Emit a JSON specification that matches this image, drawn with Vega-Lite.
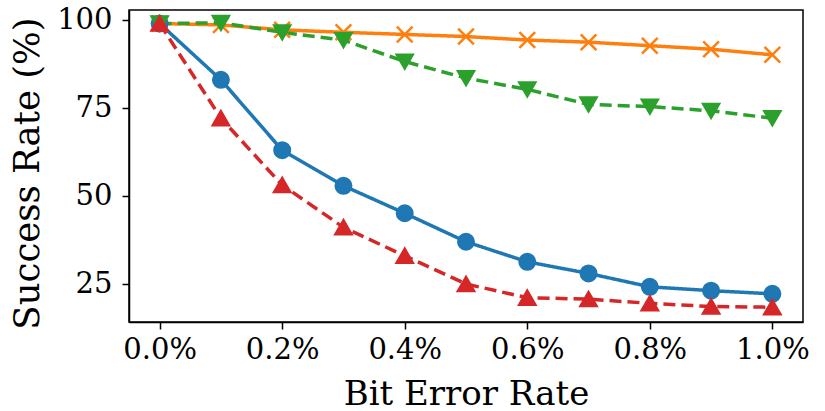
{
  "$schema": "https://vega.github.io/schema/vega-lite/v6.json",
  "width": 674,
  "height": 312,
  "autosize": {"type": "none"},
  "padding": {"left": 129, "top": 10, "right": 22, "bottom": 89},
  "background": "white",
  "config": {
    "font": "DejaVu Serif",
    "view": {"stroke": "black", "strokeWidth": 1.5},
    "axis": {
      "grid": false,
      "domainColor": "black",
      "domainWidth": 1.5,
      "tickColor": "black",
      "tickWidth": 1.5,
      "tickSize": 7,
      "labelColor": "black",
      "titleColor": "black",
      "labelFont": "DejaVu Serif",
      "titleFont": "DejaVu Serif",
      "labelFontSize": 29,
      "titleFontSize": 34,
      "titleFontWeight": "normal"
    }
  },
  "data": {
    "values": [
      {"s": "A", "x": 0.0, "y": 99.0},
      {"s": "A", "x": 0.1, "y": 83.0},
      {"s": "A", "x": 0.2, "y": 63.0},
      {"s": "A", "x": 0.3, "y": 52.9},
      {"s": "A", "x": 0.4, "y": 45.1},
      {"s": "A", "x": 0.5, "y": 37.0},
      {"s": "A", "x": 0.6, "y": 31.3},
      {"s": "A", "x": 0.7, "y": 28.0},
      {"s": "A", "x": 0.8, "y": 24.2},
      {"s": "A", "x": 0.9, "y": 23.1},
      {"s": "A", "x": 1.0, "y": 22.2},
      {"s": "B", "x": 0.0, "y": 99.0},
      {"s": "B", "x": 0.1, "y": 98.6},
      {"s": "B", "x": 0.2, "y": 97.2},
      {"s": "B", "x": 0.3, "y": 96.5},
      {"s": "B", "x": 0.4, "y": 95.9},
      {"s": "B", "x": 0.5, "y": 95.3},
      {"s": "B", "x": 0.6, "y": 94.3},
      {"s": "B", "x": 0.7, "y": 93.7},
      {"s": "B", "x": 0.8, "y": 92.7},
      {"s": "B", "x": 0.9, "y": 91.7},
      {"s": "B", "x": 1.0, "y": 90.1},
      {"s": "C", "x": 0.0, "y": 99.0},
      {"s": "C", "x": 0.1, "y": 99.2},
      {"s": "C", "x": 0.2, "y": 96.5},
      {"s": "C", "x": 0.3, "y": 94.3},
      {"s": "C", "x": 0.4, "y": 88.2},
      {"s": "C", "x": 0.5, "y": 83.5},
      {"s": "C", "x": 0.6, "y": 80.3},
      {"s": "C", "x": 0.7, "y": 76.0},
      {"s": "C", "x": 0.8, "y": 75.4},
      {"s": "C", "x": 0.9, "y": 74.2},
      {"s": "C", "x": 1.0, "y": 72.1},
      {"s": "D", "x": 0.0, "y": 99.0},
      {"s": "D", "x": 0.1, "y": 72.1},
      {"s": "D", "x": 0.2, "y": 53.1},
      {"s": "D", "x": 0.3, "y": 41.1},
      {"s": "D", "x": 0.4, "y": 33.0},
      {"s": "D", "x": 0.5, "y": 25.0},
      {"s": "D", "x": 0.6, "y": 21.1},
      {"s": "D", "x": 0.7, "y": 20.7},
      {"s": "D", "x": 0.8, "y": 19.5},
      {"s": "D", "x": 0.9, "y": 18.6},
      {"s": "D", "x": 1.0, "y": 18.4}
    ]
  },
  "encoding": {
    "x": {
      "field": "x",
      "type": "quantitative",
      "scale": {"domain": [-0.05, 1.05], "nice": false, "zero": false},
      "axis": {
        "title": "Bit Error Rate",
        "values": [0, 0.2, 0.4, 0.6, 0.8, 1.0],
        "labelExpr": "format(datum.value, '.1f') + '%'",
        "labelPadding": 6,
        "titlePadding": 13,
        "labelFlush": false,
        "labelOverlap": false
      }
    },
    "y": {
      "field": "y",
      "type": "quantitative",
      "scale": {"domain": [14.2, 102.84], "nice": false, "zero": false},
      "axis": {
        "title": "Success Rate (%)",
        "titleFontSize": 35.5,
        "titleY": 163,
        "values": [25, 50, 75, 100],
        "labelPadding": 10,
        "titlePadding": 11,
        "labelFlush": false,
        "labelOverlap": false
      }
    }
  },
  "layer": [
    {
      "mark": {"type": "line", "strokeWidth": 3.5},
      "encoding": {
        "color": {
          "field": "s",
          "type": "nominal",
          "scale": {"domain": ["A", "B", "C", "D"], "range": ["#1f77b4", "#ff7f0e", "#2ca02c", "#d62728"]},
          "legend": null
        },
        "strokeDash": {
          "field": "s",
          "type": "nominal",
          "scale": {"domain": ["A", "B", "C", "D"], "range": [[1, 0], [1, 0], [12, 6], [12, 6]]},
          "legend": null
        }
      }
    },
    {
      "mark": {"type": "point", "filled": false, "strokeWidth": 2.5, "opacity": 1, "fillOpacity": 1, "strokeOpacity": 1},
      "encoding": {
        "fill": {
          "field": "s",
          "type": "nominal",
          "scale": {"domain": ["A", "B", "C", "D"], "range": ["#1f77b4", "#ff7f0e", "#2ca02c", "#d62728"]},
          "legend": null
        },
        "stroke": {
          "field": "s",
          "type": "nominal",
          "scale": {"domain": ["A", "B", "C", "D"], "range": ["#1f77b4", "#ff7f0e", "#2ca02c", "#d62728"]},
          "legend": null
        },
        "shape": {
          "field": "s",
          "type": "nominal",
          "scale": {"domain": ["A", "B", "C", "D"], "range": ["circle", "M-1,-1L1,1M-1,1L1,-1", "triangle-down", "triangle-up"]},
          "legend": null
        },
        "size": {
          "field": "s",
          "type": "nominal",
          "scale": {"domain": ["A", "B", "C", "D"], "range": [240, 260, 300, 300]},
          "legend": null
        }
      }
    }
  ]
}
